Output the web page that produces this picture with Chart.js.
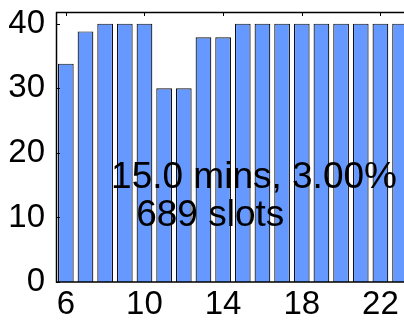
<!DOCTYPE html>
<html>
<head>
<meta charset="utf-8">
<script src="https://cdn.jsdelivr.net/npm/chart.js@4/dist/chart.umd.min.js"></script>
<style>
  html, body { margin: 0; padding: 0; background: #fff; }
  #wrap { width: 404px; height: 324px; }
</style>
</head>
<body>
<div id="wrap"><canvas id="c" width="404" height="324"></canvas></div>
<script>
// Hour of day and number of occupied slots per hour
const hours = [6, 7, 8, 9, 10, 11, 12, 13, 14, 15, 16, 17, 18, 19, 20, 21, 22, 23];
const slots = [33.8, 38.8, 40, 40, 40, 30, 30, 37.9, 37.9, 40, 40, 40, 40, 40, 40, 40, 40, 40];
const xTicks = [6, 10, 14, 18, 22];
const yTicks = [0, 10, 20, 30, 40];
const noteLines = ['15.0 mins, 3.00%', '689 slots'];

const FONT = '"Liberation Sans", Arial, sans-serif';

// Box frame with inward tick marks, plus the text note
const framePlugin = {
  id: 'frame',
  afterDatasetsDraw(chart) {
    const { ctx, chartArea: a, scales: { x, y } } = chart;
    ctx.save();
    ctx.strokeStyle = '#000';
    ctx.lineWidth = 1.5;
    ctx.beginPath();
    ctx.moveTo(a.left, a.top + 0.5);
    ctx.lineTo(a.right, a.top + 0.5);
    ctx.moveTo(a.left + 0.5, a.top);
    ctx.lineTo(a.left + 0.5, a.bottom);
    ctx.lineTo(a.right, a.bottom);
    ctx.stroke();
    ctx.lineWidth = 1;
    ctx.beginPath();
    xTicks.forEach(v => {
      const px = Math.round(x.getPixelForValue(v)) + 0.5;
      ctx.moveTo(px, a.top);
      ctx.lineTo(px, a.top + 4);
    });
    yTicks.forEach(v => {
      const py = Math.round(y.getPixelForValue(v)) + 0.5;
      ctx.moveTo(a.left, py);
      ctx.lineTo(a.left + 4, py);
    });
    ctx.stroke();

    ctx.fillStyle = '#000';
    ctx.font = '37px ' + FONT;
    ctx.textBaseline = 'alphabetic';
    ctx.textAlign = 'left';
    ctx.fillText(noteLines[0], x.getPixelForValue(8.3), y.getPixelForValue(14.6));
    ctx.fillText(noteLines[1], x.getPixelForValue(9.58), y.getPixelForValue(8.6));
    ctx.restore();
  }
};

new Chart(document.getElementById('c'), {
  type: 'bar',
  data: {
    datasets: [{
      data: hours.map((h, i) => ({ x: h, y: slots[i] })),
      backgroundColor: '#6699ff',
      borderColor: '#111',
      borderWidth: 1.2,
      barPercentage: 0.8,
      categoryPercentage: 1.0
    }]
  },
  options: {
    responsive: false,
    animation: false,
    layout: { padding: { top: 12, right: 0, left: 0, bottom: 0 } },
    plugins: { legend: { display: false }, tooltip: { enabled: false } },
    scales: {
      x: {
        type: 'linear',
        min: 5.5,
        max: 23.2,
        offset: false,
        afterBuildTicks: s => { s.ticks = xTicks.map(v => ({ value: v })); },
        afterFit: s => { s.height = 42; s.paddingLeft = 0; s.paddingRight = 0; },
        grid: { display: false },
        border: { display: false },
        ticks: {
          color: '#000',
          font: { family: FONT, size: 33 },
          padding: -5,
          maxRotation: 0,
          autoSkip: false,
          callback: v => String(v)
        }
      },
      y: {
        min: 0,
        max: 41.8,
        afterBuildTicks: s => { s.ticks = yTicks.map(v => ({ value: v })); },
        afterFit: s => { s.width = 56; s.paddingTop = 0; s.paddingBottom = 0; },
        grid: { display: false },
        border: { display: false },
        ticks: {
          color: '#000',
          font: { family: FONT, size: 33 },
          padding: 3,
          callback: v => String(v)
        }
      }
    }
  },
  plugins: [framePlugin]
});
</script>
</body>
</html>
